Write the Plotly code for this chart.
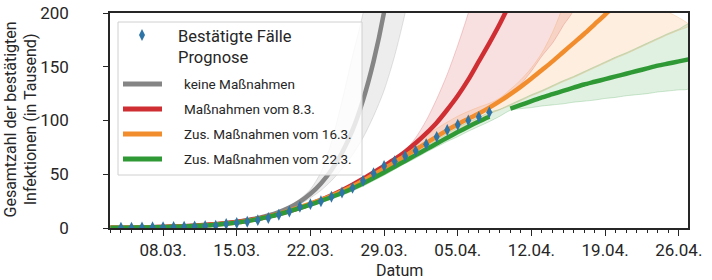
import plotly.graph_objects as go
import pandas as pd

# ---------------- data (thousands of confirmed infections) ----------------
confirmed_start = "2020-03-04"
confirmed = [0.2, 0.3, 0.5, 0.7, 0.8, 1.0, 1.2, 1.5, 1.9, 2.1,
             3.7, 4.6, 5.8, 7.3, 9.3, 12.3, 15.3, 19.8, 22.2, 24.9,
             29.1, 33.0, 37.3, 43.9, 50.9, 57.7, 62.1, 66.9, 71.8, 77.9,
             84.8, 91.2, 96.1, 100.1, 103.4, 107.7]

# scenario: keine Maßnahmen
gray_start = "2020-03-03"
gray_line = [0.2, 0.3, 0.4, 0.6, 0.8, 1.0, 1.3, 1.7, 2.2, 2.8,
             3.6, 4.6, 5.8, 7.3, 9.2, 11.6, 14.8, 19.0, 24.5, 31.8,
             41.5, 54, 70, 91, 119, 155, 201, 262]
gray_band_start = "2020-03-17"
gray_upper = [9.3, 11.8, 15.5, 20.5, 27, 36, 52, 80, 118, 160, 200, 260]
gray_lower = [9.1, 11.2, 14, 17.5, 22, 28, 35, 44, 55, 68, 84, 104, 128, 160, 200, 250]

# scenario: Maßnahmen vom 8.3.
red_start = "2020-03-03"
red_line = [0.2, 0.3, 0.4, 0.6, 0.8, 1.0, 1.3, 1.7, 2.2, 2.8,
            3.6, 4.5, 5.6, 7.0, 8.7, 10.7, 13.0, 15.7, 18.8, 22.3,
            26.2, 30.5, 35.2, 40.3, 45.8, 51.7, 57.8, 64.0, 71.0,
            79, 88, 98, 110, 123, 138, 155, 172, 190, 210]
red_band_start = "2020-03-29"
red_upper = [58, 64, 72, 84, 100, 120, 143, 170, 200, 235]
red_lower = [57.5, 63, 68.5, 74.5, 80.5, 86.5, 92.5, 98, 103, 108,
             112, 118, 125, 134, 146, 160, 172, 188, 206]

# scenario: Zus. Maßnahmen vom 16.3.
orange_start = "2020-03-03"
orange_line = [0.2, 0.25, 0.35, 0.5, 0.65, 0.85, 1.1, 1.45, 1.9, 2.45,
               3.2, 4.1, 5.2, 6.6, 8.4, 10.6, 13.2, 16.1, 19.3, 22.6,
               26.1, 30.0, 34.2, 38.8, 43.9, 49.5, 55.3, 61.2, 67.1,
               73, 79, 85, 91, 96.5, 101.5, 106.5, 112, 118, 124.5,
               131.5, 139, 147, 155, 163.5, 172, 180.5, 189.5, 198.5, 208]
orange_band_start = "2020-03-22"
orange_upper = [23, 26.5, 30.5, 35, 40.5, 46.5, 53, 59.5, 66, 72.5,
                79, 86, 92.5, 98.5, 104, 108.5, 112.5, 116, 121, 129,
                138, 149, 163, 182, 206, 232]
orange_lower = [21, 24, 27.5, 31.5, 36, 41, 46.5, 52, 57.5, 63,
                68.5, 74, 80, 86, 91.5, 96.5, 101, 106, 110, 114,
                118.5, 123, 127, 131.5, 136, 140, 144.5, 149, 153.5, 158,
                162, 166.5, 171, 175.5, 180, 184, 188.5]

# scenario: Zus. Maßnahmen vom 22.3.
green_fit_start = "2020-03-03"
green_fit = [0.15, 0.2, 0.3, 0.45, 0.6, 0.8, 1.05, 1.35, 1.75, 2.3,
             3.0, 3.9, 5.0, 6.4, 8.2, 10.3, 12.8, 15.6, 18.6, 21.8,
             25.2, 28.8, 32.6, 36.8, 41.4, 46.4, 51.6, 57.0, 62.4,
             67.8, 73.2, 78.6, 84.0, 89.2, 94.2, 99.0, 103.5]
green_prog_start = "2020-04-10"
green_prog = [111, 114.5, 118, 121.5, 124.5, 127.5, 130.5, 133.5, 136, 138.5,
              141, 143.5, 146, 148.5, 151, 153, 155, 157]
green_band_start = "2020-03-22"
green_upper = [22.5, 25.5, 29, 33, 37.5, 42.5, 48, 53.5, 59, 64.5,
               70, 76, 82, 88, 93.5, 98.5, 103, 107.5, 110.5, 115,
               119.5, 124, 128, 132.5, 137, 141, 145.5, 150, 154.5, 159,
               163, 167.5, 172, 176.5, 181, 185, 189.5]
green_lower = [20.5, 23.5, 27, 30.5, 34.5, 39, 44, 49, 54.5, 60,
               65, 70.5, 75.5, 80.5, 85, 90, 94.5, 99, 104, 109.5,
               111, 112, 113.5, 114.5, 115.5, 117, 118, 119, 120.5, 121.5,
               123, 124, 125, 126.5, 127.5, 128.5, 130]

legend_labels = ["Bestätigte Fälle", "Prognose", "keine Maßnahmen",
                 "Maßnahmen vom 8.3.", "Zus. Maßnahmen vom 16.3.",
                 "Zus. Maßnahmen vom 22.3."]

# ---------------- styling ----------------
C_GRAY, C_RED, C_ORANGE, C_GREEN, C_BLUE = "#858585", "#cf2f33", "#f18d2c", "#2f9a35", "#2e74a6"
FONT = "Roboto"
TXT = "#262626"
W, H = 712, 280
L, R, T, B = 110, 24, 13, 52
PW, PH = W - L - R, H - T - B


def dates(start, n):
    return list(pd.date_range(start, periods=n, freq="D"))


def rgba(hexc, a):
    h = hexc.lstrip("#")
    return f"rgba({int(h[0:2],16)},{int(h[2:4],16)},{int(h[4:6],16)},{a})"


def band(start, upper, lower, color):
    xu = dates(start, len(upper))
    xl = dates(start, len(lower))
    return go.Scatter(x=xu + xl[::-1], y=upper + lower[::-1], fill="toself",
                      fillcolor=rgba(color, 0.15),
                      line=dict(color=rgba(color, 0.22), width=1, shape="spline", smoothing=0.8),
                      mode="lines", hoverinfo="skip", showlegend=False)


def line(start, vals, color):
    return go.Scatter(x=dates(start, len(vals)), y=vals, mode="lines",
                      line=dict(color=color, width=4.5, shape="spline", smoothing=0.8), showlegend=False)


fig = go.Figure()
fig.add_trace(band(gray_band_start, gray_upper, gray_lower, C_GRAY))
fig.add_trace(band(red_band_start, red_upper, red_lower, C_RED))
fig.add_trace(band(orange_band_start, orange_upper, orange_lower, C_ORANGE))
fig.add_trace(band(green_band_start, green_upper, green_lower, C_GREEN))
fig.add_trace(line(gray_start, gray_line, C_GRAY))
fig.add_trace(line(red_start, red_line, C_RED))
fig.add_trace(line(orange_start, orange_line, C_ORANGE))
fig.add_trace(line(green_fit_start, green_fit, C_GREEN))
fig.add_trace(line(green_prog_start, green_prog, C_GREEN))
fig.add_trace(go.Scatter(x=dates(confirmed_start, len(confirmed)), y=confirmed, mode="markers",
                         marker=dict(symbol="diamond-tall", size=8.5, color=C_BLUE,
                                     line=dict(width=0)), showlegend=False))


def px(x, y):
    return (x - L) / PW, (H - B - y) / PH


shapes = []
annotations = []

# legend box
x0, y0 = px(118, 22)
x1, y1 = px(362, 175)
shapes.append(dict(type="rect", xref="paper", yref="paper", x0=x0, y0=y1, x1=x1, y1=y0,
                   fillcolor="rgba(255,255,255,0.8)", line=dict(color="#d0d0d0", width=1),
                   layer="above"))
# diamond symbol
dx, dy = 142, 35
shapes.append(dict(type="path", xref="paper", yref="paper", layer="above",
                   path="M {a},{b} L {c},{d} L {e},{f} L {g},{h} Z".format(
                       a=px(dx, dy - 6)[0], b=px(dx, dy - 6)[1],
                       c=px(dx + 3, dy)[0], d=px(dx + 3, dy)[1],
                       e=px(dx, dy + 6)[0], f=px(dx, dy + 6)[1],
                       g=px(dx - 3, dy)[0], h=px(dx - 3, dy)[1]),
                   fillcolor=C_BLUE, line=dict(width=0)))
annotations.append(dict(xref="paper", yref="paper", x=px(176, 36)[0], y=px(176, 36)[1],
                        text=legend_labels[0], showarrow=False, xanchor="left", yanchor="middle",
                        font=dict(family=FONT, size=16.5, color=TXT)))
annotations.append(dict(xref="paper", yref="paper", x=px(176, 57)[0], y=px(176, 57)[1],
                        text=legend_labels[1], showarrow=False, xanchor="left", yanchor="middle",
                        font=dict(family=FONT, size=16.5, color=TXT)))
for i, (lab, col) in enumerate(zip(legend_labels[2:], [C_GRAY, C_RED, C_ORANGE, C_GREEN])):
    yy = 84 + i * 25
    a0 = px(123, yy)
    a1 = px(162, yy)
    shapes.append(dict(type="line", xref="paper", yref="paper", x0=a0[0], y0=a0[1], x1=a1[0], y1=a1[1],
                       line=dict(color=col, width=5), layer="above"))
    annotations.append(dict(xref="paper", yref="paper", x=px(182, yy)[0], y=px(182, yy)[1],
                            text=lab, showarrow=False, xanchor="left", yanchor="middle",
                            font=dict(family=FONT, size=13.5, color=TXT)))

# axis titles
annotations.append(dict(xref="paper", yref="paper", x=px(20.5, 0)[0], y=px(0, 119)[1],
                        text="Gesamtzahl der bestätigten<br>Infektionen (in Tausend)",
                        textangle=-90, showarrow=False, xanchor="center", yanchor="middle",
                        font=dict(family=FONT, size=16, color=TXT)))
annotations.append(dict(xref="paper", yref="paper", x=0.5, y=px(0, 270)[1], text="Datum",
                        showarrow=False, xanchor="center", yanchor="middle",
                        font=dict(family=FONT, size=16, color=TXT)))

fig.update_layout(
    width=W, height=H, autosize=False,
    margin=dict(l=L, r=R, t=T, b=B, pad=0, autoexpand=False),
    paper_bgcolor="white", plot_bgcolor="white",
    font=dict(family=FONT, color=TXT),
    shapes=shapes, annotations=annotations, showlegend=False,
)
fig.update_xaxes(
    type="date", range=["2020-03-02 23:00", "2020-04-26 21:00"], automargin=False,
    tick0="2020-03-08", dtick=7 * 86400000, tickformat="%d.%m.",
    ticks="outside", ticklen=6, tickwidth=1.3, tickcolor=TXT,
    minor=dict(dtick=86400000, tick0="2020-03-08", ticks="outside", ticklen=3, tickwidth=1, tickcolor=TXT),
    showline=True, linecolor=TXT, linewidth=1.5, mirror=True,
    showgrid=False, zeroline=False,
    tickfont=dict(family=FONT, size=17, color=TXT),
)
fig.update_yaxes(
    range=[0, 200], dtick=50, tick0=0, automargin=False,
    ticks="outside", ticklen=5, tickwidth=1.3, tickcolor=TXT,
    showline=True, linecolor=TXT, linewidth=1.5, mirror=True,
    showgrid=False, zeroline=False, ticklabelstandoff=31,
    tickfont=dict(family=FONT, size=17, color=TXT),
)

fig.write_html("out.html")
